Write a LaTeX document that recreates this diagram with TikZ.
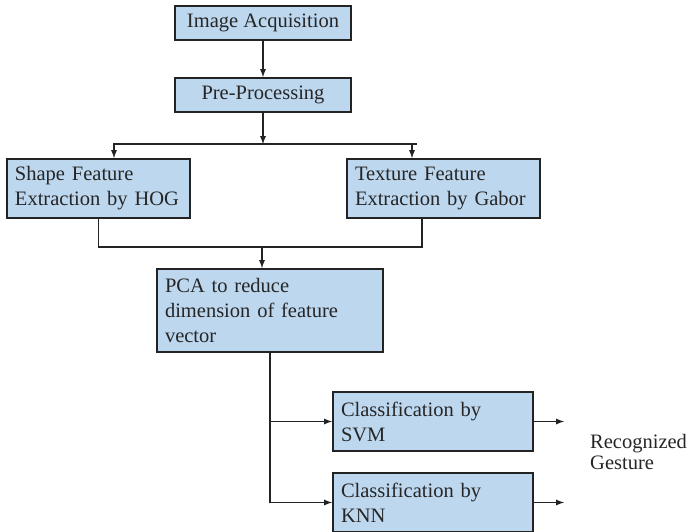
\documentclass[tikz,border=0pt]{standalone}
\usepackage{fontspec}
\setmainfont{Liberation Serif}
\usetikzlibrary{positioning}
\definecolor{boxblue}{RGB}{189,215,238}
\definecolor{edge}{RGB}{35,35,35}
\tikzstyle{block} = [rectangle, draw=edge, fill=boxblue, line width=2pt,
                     inner xsep=8pt, inner ysep=4pt, text=black!85,
                     font=\fontsize{20.5}{25}\selectfont]
\tikzstyle{head}=[block, align=center, minimum width=176pt, minimum height=34pt]
\tikzstyle{feat}=[block, align=left, minimum height=59pt]
\tikzstyle{line}=[draw=edge, line width=1.7pt]

\begin{document}
\begin{tikzpicture}[x=1pt, y=-1pt, node distance=36pt, >=latex]
  \useasboundingbox (0,0) rectangle (689,531);
  \node [head] (acq) at (263,23) {Image Acquisition};
  \node [head, below=of acq] (pre) {Pre-Processing};
  \node [feat, text width=167pt] (shape) at (98.5,188.5)
    {Shape Feature\\Extraction by HOG};
  \node [feat, text width=177pt] (texture) at (443.5,188.5)
    {Texture Feature\\Extraction by Gabor};
  \node [feat, text width=210pt, minimum height=83pt] (pca) at (270,310.5)
    {PCA to reduce\\dimension of feature\\vector};
  \node [feat, text width=184pt] (svm) at (433,421.5)
    {Classification by\\SVM};
  \node [feat, text width=184pt, below=20pt of svm] (knn)
    {Classification by\\KNN};
  \node [anchor=west, align=left, text=black!85, inner sep=0pt,
         font=\fontsize{20.5}{21}\selectfont] (gesture) at (590,452)
    {Recognized\\Gesture};

  % split after pre-processing
  \coordinate (split) at (263,144);
  \draw [line, ->] (acq) -- (pre);
  \draw [line, ->] (pre) -- (split);
  \draw [line, ->] (split) -| ([xshift=15.5pt]shape.north);
  \draw [line, ->] (split) -| ([xshift=-31.5pt]texture.north);
  \draw [line] ([xshift=-31.5pt]texture.north |- split) -- ++(5pt,0);

  % merge into pca
  \coordinate (merge) at (262,247);
  \draw [line] (shape.south) |- (merge) -| ([xshift=-21.5pt]texture.south);
  \draw [line, ->] (merge) -- (merge |- pca.north);

  % classifiers
  \draw [line, ->] (pca.south) |- (svm.west);
  \draw [line, ->] (pca.south) |- (knn.west);
  \coordinate (svmout) at ([xshift=30pt]svm.east);
  \coordinate (knnout) at ([xshift=30pt]knn.east);
  \draw [line, ->] (svm) -- (svmout);
  \draw [line, ->] (knn) -- (knnout);
\end{tikzpicture}
\end{document}
